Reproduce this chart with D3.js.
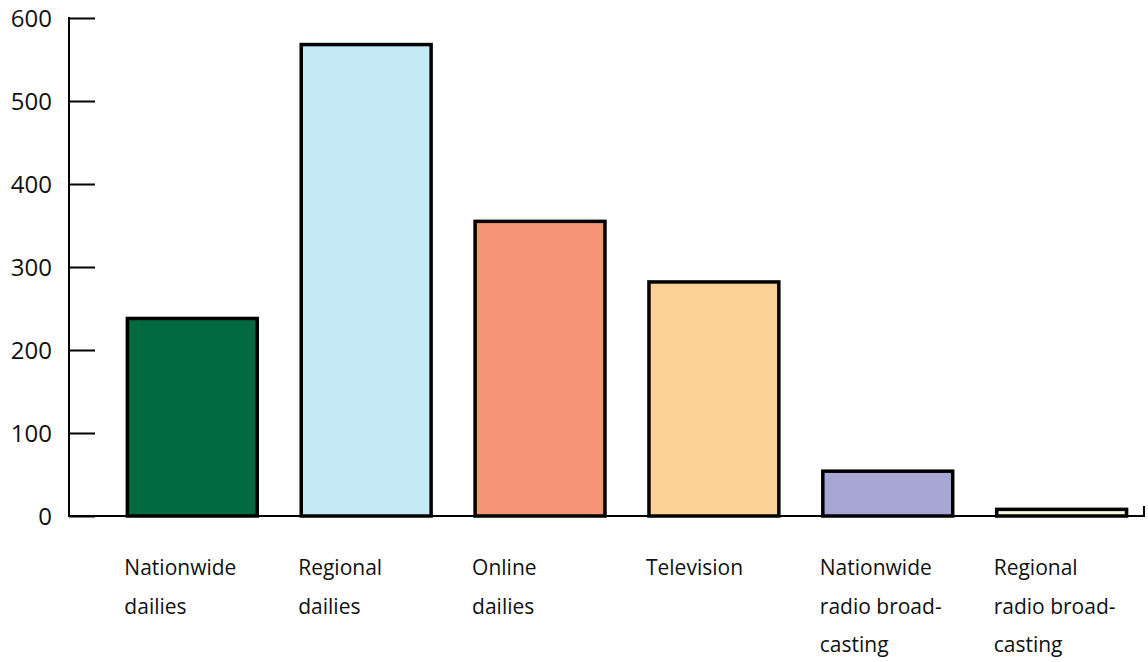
<!DOCTYPE html>
<html>
<head>
<meta charset="utf-8">
<script src="https://cdn.jsdelivr.net/npm/d3@7"></script>
<style>
  html, body { margin: 0; padding: 0; background: #fff; }
  svg { display: block; }
  text { font-family: "Open Sans", "Noto Sans", sans-serif; fill: #111; }
</style>
</head>
<body>
<svg id="chart" width="1148" height="662"></svg>
<script>
// Media categories (each label split into its printed lines)
const categories = [
  "Nationwide dailies",
  "Regional dailies",
  "Online dailies",
  "Television",
  "Nationwide radio broadcasting",
  "Regional radio broadcasting"
];
const labelLines = [
  ["Nationwide", "dailies"],
  ["Regional", "dailies"],
  ["Online", "dailies"],
  ["Television"],
  ["Nationwide", "radio broad-", "casting"],
  ["Regional", "radio broad-", "casting"]
];
const values = [238, 568, 355, 282, 54, 8];
const colors = ["#006940", "#c6e9f8", "#f59575", "#fdd096", "#a8a6d4", "#f5f7dc"];
const yTicks = [0, 100, 200, 300, 400, 500, 600];

const svg = d3.select("#chart");
const x0 = 69, x1 = 1144, yBase = 516, yTop = 18;

const x = d3.scaleBand()
  .domain(categories)
  .range([x0, x1])
  .paddingInner(0.253)
  .paddingOuter(0.218)
  .align(0.77);

const y = d3.scaleLinear().domain([0, 600]).range([yBase, yTop]);

// Bars
svg.append("g").selectAll("rect")
  .data(categories)
  .join("rect")
  .attr("x", d => x(d))
  .attr("y", (d, i) => y(values[i]))
  .attr("width", x.bandwidth())
  .attr("height", (d, i) => yBase - y(values[i]))
  .attr("fill", (d, i) => colors[i])
  .attr("stroke", "#000")
  .attr("stroke-width", 3.5);

// Y axis with inward ticks
const yAxis = d3.axisRight(y).tickValues(yTicks).tickSize(26).tickFormat("");
const gy = svg.append("g").attr("transform", `translate(${x0},0)`).call(yAxis);
gy.select(".domain").remove();
gy.selectAll(".tick line").attr("stroke", "#000").attr("stroke-width", 2);
svg.append("line")
  .attr("x1", x0).attr("x2", x0)
  .attr("y1", yTop - 1).attr("y2", yBase + 1)
  .attr("stroke", "#000").attr("stroke-width", 2);

svg.append("g").selectAll("text")
  .data(yTicks)
  .join("text")
  .attr("x", 52)
  .attr("y", d => y(d))
  .attr("dy", "0.36em")
  .attr("text-anchor", "end")
  .attr("font-size", 24)
  .text(d => d);

// Baseline with small closing tick at the right end
svg.append("path")
  .attr("d", `M${x0},${yBase}H${x1}V${yBase - 10}`)
  .attr("fill", "none")
  .attr("stroke", "#000")
  .attr("stroke-width", 2);

// Category labels, left-aligned under each bar
const lab = svg.append("g").selectAll("text")
  .data(categories)
  .join("text")
  .attr("x", d => x(d) - 3)
  .attr("y", 575)
  .attr("font-size", 21);
lab.selectAll("tspan")
  .data((d, i) => labelLines[i])
  .join("tspan")
  .attr("x", function () { return d3.select(this.parentNode).attr("x"); })
  .attr("dy", (d, j) => j === 0 ? 0 : 38.5)
  .text(d => d);
</script>
</body>
</html>
